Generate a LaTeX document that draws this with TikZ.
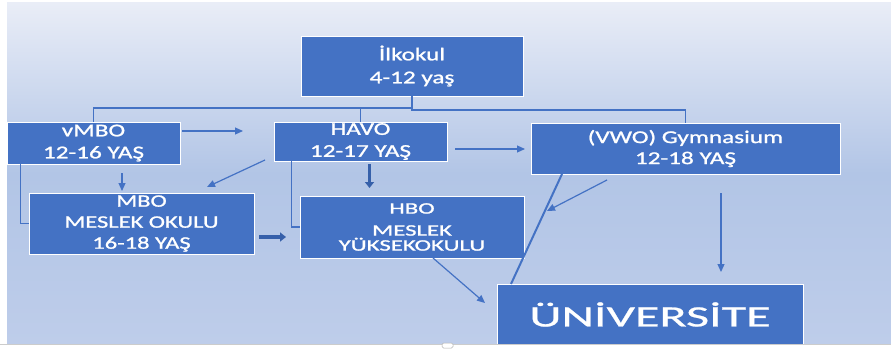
\documentclass[tikz,border=0pt]{standalone}
\usepackage{fontspec}
\setmainfont{Carlito}
\newfontfamily\boxfont{Carlito}[FakeStretch=1.4, FakeBold=1.2]
\newfontfamily\hbofont{Carlito}[FakeStretch=1.55, FakeBold=1.2]
\newfontfamily\unifont{Carlito}[FakeStretch=1.7, FakeBold=0.8]
\usetikzlibrary{arrows.meta}
\definecolor{boxblue}{HTML}{4472C4}
\definecolor{linkblue}{HTML}{4472C4}
\definecolor{darkblue}{HTML}{3660AA}
\definecolor{bgtop}{RGB}{233,237,247}
\definecolor{bgmid}{RGB}{178,197,230}
\definecolor{bgbot}{RGB}{190,205,234}
\tikzset{
  box/.style={draw=white, line width=0.8pt, fill=boxblue, text=white, inner sep=0pt, align=center},
  link/.style={draw=linkblue, line width=1.2pt},
  arr/.style={draw=linkblue, line width=1.2pt, -{Triangle[length=8pt,width=7pt]}},
  bigarr/.style={draw=darkblue, line width=3.5pt, -{Triangle[length=6pt,width=9pt]}},
}
\begin{document}
\begin{tikzpicture}[x=1pt, y=-1pt]
\useasboundingbox (0,0) rectangle (891,350);
\fill[white] (0,0) rectangle (891,350);
\shade[top color=bgtop, bottom color=bgbot, middle color=bgmid, shading angle=0] (7,3) rectangle (891,344);
% boxes
\node[box, minimum width=222pt, minimum height=60pt, font=\boxfont\fontsize{18}{23}\selectfont] (ilk) at (412,66) {İlkokul\\4-12 yaş};
\node[box, minimum width=173pt, minimum height=42pt, font=\boxfont\fontsize{18}{22}\selectfont] (vmbo) at (93.5,143) {vMBO\\12-16 YAŞ};
\node[box, minimum width=173pt, minimum height=39pt, font=\boxfont\fontsize{18}{22}\selectfont] (havo) at (360.5,141.5) {HAVO\\12-17 YAŞ};
\node[box, minimum width=309pt, minimum height=51pt, font=\boxfont\fontsize{18}{21}\selectfont] (vwo) at (685.5,148.5) {(VWO) Gymnasium\\12-18 YAŞ};
\node[box, minimum width=225pt, minimum height=61pt, font=\boxfont\fontsize{17.5}{21}\selectfont] (mbo) at (141.5,223.5) {MBO\\MESLEK OKULU\\16-18 YAŞ};
\node[box, minimum width=224pt, minimum height=62pt, font=\hbofont\fontsize{16}{15}\selectfont] (hbo) at (412,227) {HBO\\[7pt]MESLEK\\YÜKSEKOKULU};
\node[box, minimum width=306pt, minimum height=61pt, font=\unifont\fontsize{29.5}{32}\selectfont] (uni) at (650,314.5) {ÜNİVERSİTE};
% tree from İlkokul
\coordinate (tL) at (412,108);
\coordinate (tR) at (412,110);
\draw[link] (ilk.south) -- (tR) -| (vwo.north);
\draw[link] (tL) -| (vmbo.north);
\draw[link] (tL -| havo.north) -- (havo.north);
% free ends
\coordinate (a1s) at (182,131);  \coordinate (a1e) at (243,131);
\coordinate (a2s) at (455,149);  \coordinate (a2e) at (525,149);
\coordinate (a3s) at (122,173);  \coordinate (a3e) at (122,191);
\coordinate (a4s) at (265,160);  \coordinate (a4e) at (207,187);
\coordinate (a5s) at (369.5,164); \coordinate (a5e) at (369.5,188);
\coordinate (a6s) at (259,237);  \coordinate (a6e) at (286,237);
\coordinate (a7s) at (433,258);  \coordinate (a7e) at (485,303);
\coordinate (a8s) at (562,174);  \coordinate (a8e) at (511,284);
\coordinate (a9s) at (607,180);  \coordinate (a9e) at (547,211);
\coordinate (a10s) at (721,193); \coordinate (a10e) at (721,272);
% connectors
\draw[arr] (a1s) -- (a1e);
\draw[arr] (a2s) -- (a2e);
\draw[link] ([xshift=14pt]vmbo.south west) |- (mbo.west);
\draw[link] ([xshift=18pt]havo.south west) |- (hbo.west);
\draw[arr] (a3s) -- (a3e);
\draw[arr] (a4s) -- (a4e);
\draw[bigarr] (a5s) -- (a5e);
\draw[bigarr] (a6s) -- (a6e);
\draw[arr] (a7s) -- (a7e);
\draw[link, line width=2pt] (a8s) -- (a8e);
\draw[arr] (a9s) -- (a9e);
\draw[arr] (a10s) -- (a10e);
% bottom edge
\draw[gray!40, line width=0.8pt] (0,344.5) -- (891,344.5);
\draw[gray!60, fill=white, line width=0.5pt, rounded corners=1.5pt] (442,343) rectangle (453,348);
\end{tikzpicture}
\end{document}
